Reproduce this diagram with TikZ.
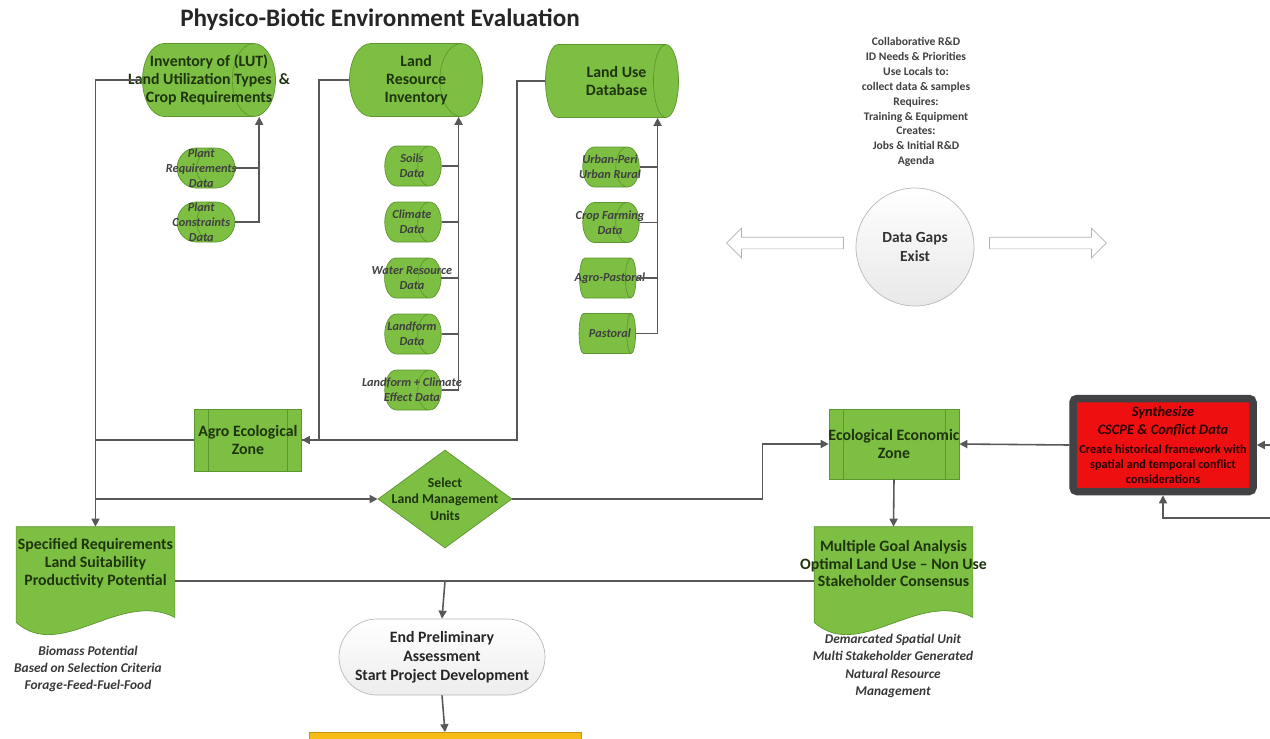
\documentclass[tikz,border=0pt]{standalone}
\usepackage{fontspec}
\setmainfont{Carlito}
\usetikzlibrary{shapes.geometric,shapes.misc,shapes.arrows,arrows.meta,positioning,calc,backgrounds}
\definecolor{leaf}{RGB}{125,191,66}
\definecolor{leafedge}{RGB}{92,150,48}
\definecolor{leafink}{RGB}{30,52,14}
\definecolor{slate}{RGB}{88,88,88}
\definecolor{alarm}{RGB}{238,16,16}
\definecolor{rim}{RGB}{66,66,68}
\definecolor{amber}{RGB}{247,188,24}
\newcommand{\ov}[1]{\makebox[0pt]{#1}}
% cylinder text sits left of the drum middle, push it back
\newcommand{\bigline}[1]{\makebox[0pt]{\hspace{4.4mm}#1}}
\newcommand{\smallline}[1]{\makebox[0pt]{\hspace{2mm}#1}}
\newcommand{\docwave}[1]{\path[docbody] (#1.north west) -- (#1.north east) -- ([yshift=-3.4mm]#1.south east)
  .. controls +(-55,-28) and +(45,40) .. ([yshift=-4.4mm]#1.south west) -- cycle;}

\begin{document}
\begin{tikzpicture}[x=0.2mm,y=-0.2mm,
  wire/.style={draw=slate,line width=0.9pt,-{Triangle[length=1.6mm,width=1.6mm]}},
  plain/.style={draw=slate,line width=0.9pt},
  drum/.style={cylinder,draw=leafedge,cylinder uses custom fill,cylinder body fill=leaf,cylinder end fill=leaf,align=center,inner sep=0pt,anchor=shape center},
  bigdrum/.style={drum,aspect=0.85,minimum height=26.6mm,minimum width=14.6mm,text=leafink,font=\bfseries\fontsize{9}{10.4}\selectfont},
  smalldrum/.style={drum,aspect=1,minimum height=11.3mm,minimum width=8mm,text=black!75,font=\bfseries\itshape\fontsize{7}{8.4}\selectfont},
  zone/.style={rectangle,draw=leafedge,fill=leaf,text=leafink,align=center,font=\bfseries\fontsize{9}{10.4}\selectfont,
    path picture={\draw[leafedge] ([xshift=2.8mm]path picture bounding box.north west) -- ([xshift=2.8mm]path picture bounding box.south west)
      ([xshift=-2.8mm]path picture bounding box.north east) -- ([xshift=-2.8mm]path picture bounding box.south east);}},
  doc/.style={rectangle,minimum width=31.6mm,minimum height=14.6mm,text=leafink,align=center,font=\bfseries\fontsize{9}{10.2}\selectfont},
  docbody/.style={draw=leafedge,fill=leaf},
  note/.style={align=center,text=black!78,font=\bfseries\itshape\fontsize{7.6}{9.9}\selectfont},
  blockarrow/.style={single arrow,draw=gray!60,fill=white,inner sep=1.1mm,minimum height=23.4mm,single arrow head extend=1.8mm,single arrow tip angle=90}
]
\useasboundingbox (0,0) rectangle (1270,738);
\clip (0,0) rectangle (1270,738);
\begin{scope}[on background layer]
\fill[white] (0,0) rectangle (1270,738);
\end{scope}

\node[font=\bfseries\fontsize{14.3}{16}\selectfont,text=black!85](title) at (380,20){Physico-Biotic Environment Evaluation};

% inventories
\node[bigdrum](lut) at (209,80){\bigline{Inventory of (LUT)}\\\bigline{Land Utilization Types \ \&}\\\bigline{Crop Requirements}};
\node[bigdrum](lri) at (416,80){\bigline{Land}\\\bigline{Resource}\\\bigline{Inventory}};
\node[bigdrum](lud) at (612,81){\bigline{Land Use}\\\bigline{Database}};

\begin{scope}[on grid,node distance=10.8mm]
\node[smalldrum](preq) at (206,168){\smallline{Plant}\\\smallline{Requirements}\\\smallline{Data}};
\node[smalldrum](pcon)[below=of preq]{\smallline{Plant}\\\smallline{Constraints}\\\smallline{Data}};
\end{scope}
\begin{scope}[on grid,node distance=11.2mm]
\node[smalldrum](soil) at (413,166){\smallline{Soils}\\\smallline{Data}};
\node[smalldrum](clim)[below=of soil]{\smallline{Climate}\\\smallline{Data}};
\node[smalldrum](water)[below=of clim]{\smallline{Water Resource}\\\smallline{Data}};
\node[smalldrum](form)[below=of water]{\smallline{Landform}\\\smallline{Data}};
\node[smalldrum](formclim)[below=of form]{\smallline{Landform + Climate}\\\smallline{Effect Data}};
\end{scope}
\begin{scope}[on grid,node distance=11.1mm]
\node[smalldrum](urban) at (611,167){\smallline{Urban-Peri}\\\smallline{Urban Rural}};
\node[smalldrum](crop)[below=of urban]{\smallline{Crop Farming}\\\smallline{Data}};
\node[smalldrum](agpast)[below=of crop]{\smallline{Agro-Pastoral}};
\node[smalldrum](past)[below=of agpast]{\smallline{Pastoral}};
\end{scope}

% zones and decisions
\node[zone,minimum width=21.4mm,minimum height=12.4mm](aez) at (248,440){\ov{Agro Ecological}\\Zone};
\node[zone,minimum width=26mm,minimum height=14mm](eez) at (894,444){\ov{Ecological Economic}\\Zone};
\node[diamond,draw=leafedge,fill=leaf,aspect=1.37,inner sep=0pt,minimum width=26.8mm,minimum height=19.6mm,text=leafink,align=center,font=\bfseries\fontsize{7.8}{9.4}\selectfont](lmu) at (445,499){Select\\\ov{Land Management}\\Units};
\node[doc](sr) at (95.5,563.5){\ov{Specified Requirements}\\Land Suitability\\Productivity Potential};
\node[doc](mga) at (893.5,563.5){\ov{Multiple Goal Analysis}\\\ov{Optimal Land Use -- Non Use}\\\ov{Stakeholder Consensus}};
\node[rounded rectangle,draw=gray!55,top color=white,bottom color=gray!14,minimum width=39.2mm,minimum height=15.2mm,text=black!85,align=center,font=\bfseries\fontsize{9}{10.8}\selectfont](epa) at (442,657){End Preliminary\\Assessment\\Start Project Development};
\node[rectangle,draw=amber!80!black,fill=amber,minimum width=54.4mm,minimum height=11mm](next) at (445,760){};

\node[note](biomass) at (88,669){Biomass Potential\\Based on Selection Criteria\\Forage-Feed-Fuel-Food};
\node[note](demarc) at (893,666){Demarcated Spatial Unit\\Multi Stakeholder Generated\\Natural Resource\\Management};

% data gaps
\node[align=center,text=black!75,font=\bfseries\fontsize{6.6}{8.5}\selectfont](agenda) at (916,102){Collaborative R\&D\\ID Needs \& Priorities\\Use Locals to:\\collect data \& samples\\Requires:\\Training \& Equipment\\Creates:\\Jobs \& Initial R\&D\\Agenda};
\node[circle,draw=gray!55,top color=white,bottom color=gray!18,minimum size=23.6mm,text=black!80,align=center,font=\bfseries\fontsize{8.8}{10.8}\selectfont](gaps) at (915,247){Data Gaps\\Exist};
\node[blockarrow,shape border rotate=180](goleft) at (788,243){};
\node[blockarrow](goright) at (1045,243){};

\node[rectangle,rounded corners=0.8mm,fill=alarm,draw=rim,line width=1.5mm,minimum width=36mm,minimum height=18.6mm,inner sep=1pt,align=center,text=black!85!red,font=\bfseries\fontsize{7}{8.6}\selectfont](cscpe) at (1163,445){{\itshape\fontsize{8.2}{10}\selectfont Synthesize}\\[2pt]{\itshape\fontsize{8.2}{10}\selectfont CSCPE \& Conflict Data}\\[2pt]\ov{Create historical framework with}\\spatial and temporal conflict\\considerations};
\coordinate (edgeA) at (1270,445);
\coordinate (edgeB) at (1270,518);

\begin{scope}[on background layer]
\docwave{sr}
\docwave{mga}
\end{scope}

% buses into the inventories
\path (preq.east) ++(24,0) coordinate (lutbus);
\path (soil.east) ++(17,0) coordinate (lrbus);
\path (urban.east) ++(18,0) coordinate (ludbus);
\draw[wire] (pcon.east) -| (lutbus |- lut.south);
\draw[plain] (preq.east) -- (lutbus);
\draw[wire] (formclim.east) -| (lrbus |- lri.south);
\foreach \n in {soil,clim,water,form} \draw[plain] (\n.east) -- (\n.east -| lrbus);
\draw[wire] (past.east) -| (ludbus |- lud.south);
\foreach \n in {urban,crop,agpast} \draw[plain] (\n.east) -- (\n.east -| ludbus);

% main flow
\draw[wire] (lut.west) -| (sr.north);
\draw[wire] (lri.west) -- ++(-30,0) |- (aez.east);
\draw[plain] (lud.west) -- ++(-28,0) |- (aez.east);
\draw[plain] (aez.west) -- (aez.west -| sr.north);
\draw[wire] (sr.north |- lmu.west) -- (lmu.west);
\draw[wire] (lmu.east) -- ++(250,0) |- (eez.west);
\draw[wire] (cscpe.west) -- (eez.east);
\draw[wire] (edgeA) -- (cscpe.east);
\draw[wire] (edgeB) -| (cscpe.south);
\draw[wire] (eez.south) -- (mga.north);
\coordinate (fork) at (445,581);
\draw[plain] (sr.east |- fork) -- (mga.west |- fork);
\draw[wire] (fork) -- (epa.north);
\draw[wire] (epa.south) -- (next.north);
\end{tikzpicture}
\end{document}
